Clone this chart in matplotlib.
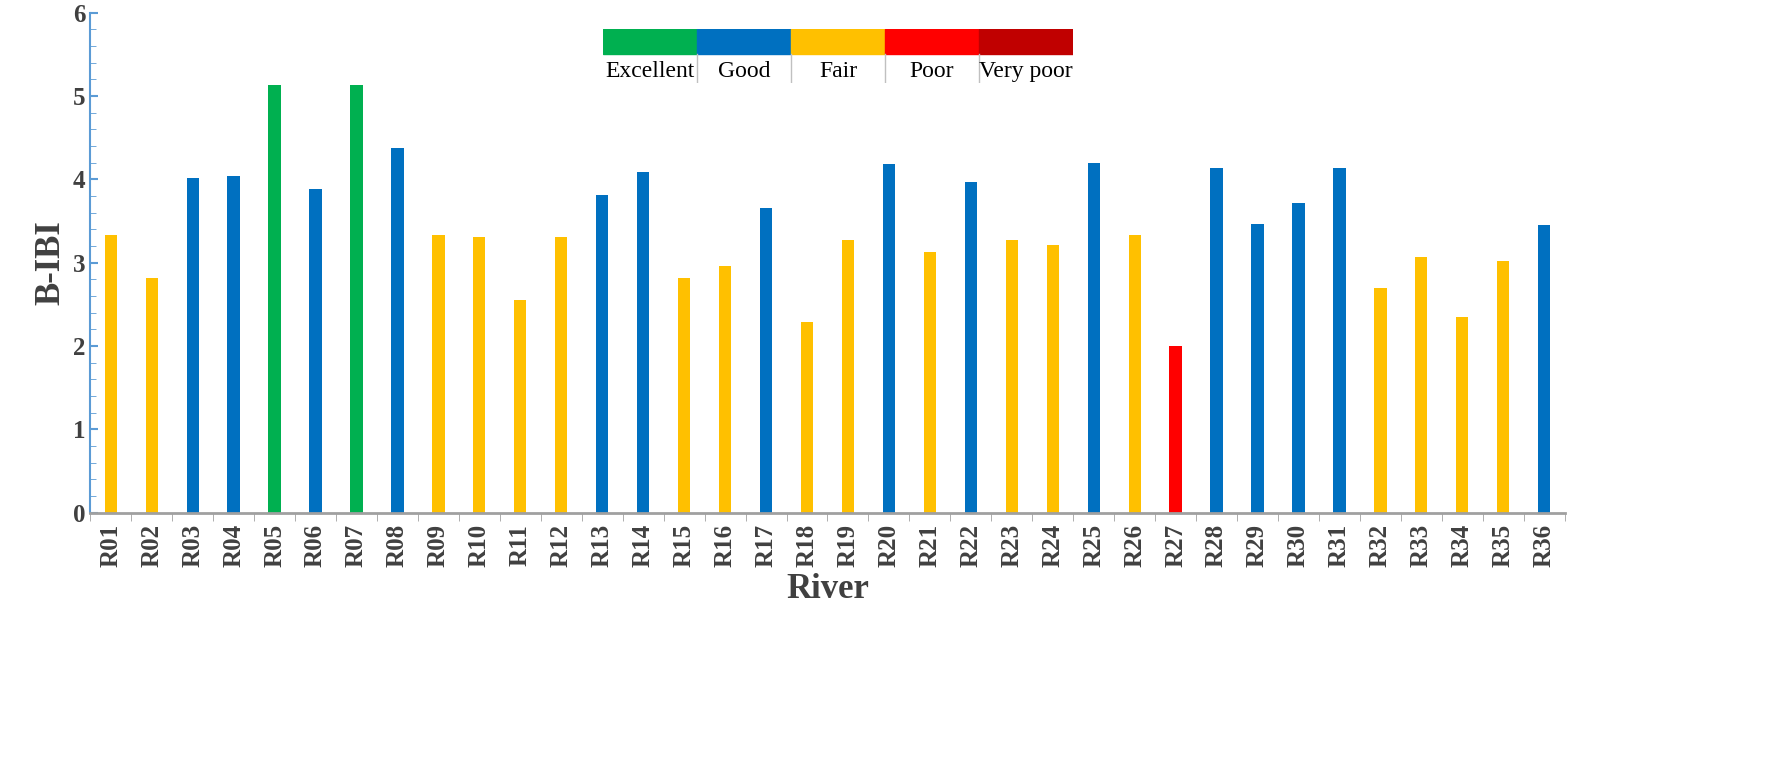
import matplotlib
matplotlib.use("Agg")
import matplotlib.pyplot as plt
from matplotlib.patches import Rectangle

rivers = [f"R{i:02d}" for i in range(1, 37)]
values = [3.33, 2.82, 4.01, 4.04, 5.13, 3.88, 5.13, 4.37, 3.33, 3.31, 2.55, 3.31,
          3.81, 4.09, 2.82, 2.96, 3.66, 2.29, 3.27, 4.18, 3.13, 3.97, 3.27, 3.21,
          4.20, 3.33, 2.00, 4.13, 3.46, 3.72, 4.13, 2.69, 3.07, 2.35, 3.02, 3.45]
classes = ["Fair", "Fair", "Good", "Good", "Excellent", "Good", "Excellent", "Good", "Fair", "Fair",
           "Fair", "Fair", "Good", "Good", "Fair", "Fair", "Good", "Fair", "Fair", "Good",
           "Fair", "Good", "Fair", "Fair", "Good", "Fair", "Poor", "Good", "Good", "Good",
           "Good", "Fair", "Fair", "Fair", "Fair", "Good"]
legend_labels = ["Excellent", "Good", "Fair", "Poor", "Very poor"]
legend_colors = ["#00B050", "#0070C0", "#FFC000", "#FF0000", "#C00000"]
cmap = dict(zip(legend_labels, legend_colors))

plt.rcParams["font.family"] = "Liberation Serif"
fig = plt.figure(figsize=(17.7, 7.77), dpi=100)
H = 870.0
ax = fig.add_axes([0.051, 1 - 574 / H, 0.833, (574 - 14) / H])
x = range(len(rivers))
ax.bar(x, values, width=0.3, color=[cmap[c] for c in classes])
ax.set_xlim(-0.5, len(rivers) - 0.5)
ax.set_ylim(0, 6)
ax.set_yticks(range(7))
ax.set_yticks([i * 0.2 for i in range(31)], minor=True)
ax.set_xticks(list(x))
ax.set_xticklabels(rivers, rotation=90, fontsize=18, fontweight="bold", color="#404040")
ax.tick_params(axis="y", labelsize=18, colors="#404040", direction="in", length=6, color="#5B9BD5", width=1.5)
ax.tick_params(axis="y", which="minor", direction="in", length=4, color="#5B9BD5")
for lab in ax.get_yticklabels():
    lab.set_fontweight("bold")
ax.set_xticks([i + 0.5 for i in range(-1, 36)], minor=True)
ax.tick_params(axis="x", which="minor", length=6, color="#A0A0A0")
ax.tick_params(axis="x", which="major", length=0, pad=8)
ax.spines["top"].set_visible(False)
ax.spines["right"].set_visible(False)
ax.spines["left"].set_color("#5B9BD5")
ax.spines["left"].set_linewidth(1.5)
ax.spines["bottom"].set_color("#A0A0A0")
ax.spines["bottom"].set_linewidth(2)
ax.set_ylabel("B-IBI", fontsize=25, fontweight="bold", color="#404040")
ax.set_xlabel("River", fontsize=25, fontweight="bold", color="#404040", labelpad=4)

# legend bar
lax = fig.add_axes([603 / 1770, 1 - 93 / H, 470 / 1770, 61 / H])
lax.set_xlim(0, 5)
lax.set_ylim(0, 1)
lax.axis("off")
for i, (lab, col) in enumerate(zip(legend_labels, legend_colors)):
    lax.add_patch(Rectangle((i, 0.54), 1, 0.46, color=col))
    lax.text(i + 0.5, 0.22, lab, ha="center", va="center", fontsize=17)
    if i > 0:
        lax.plot([i, i], [0.0, 0.54], color="#C0C0C0", lw=1)

fig.savefig("out.png", dpi=100)
